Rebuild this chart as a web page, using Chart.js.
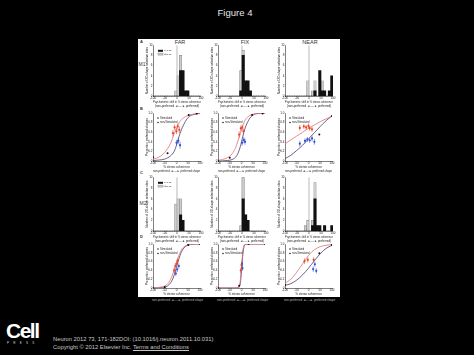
<!DOCTYPE html>
<html><head><meta charset="utf-8">
<script src="https://cdn.jsdelivr.net/npm/chart.js@4.4.1/dist/chart.umd.min.js"></script>
<style>
html,body{margin:0;padding:0;background:#000;width:474px;height:355px;overflow:hidden;font-family:"Liberation Sans",Arial,sans-serif;}
#paper{position:absolute;left:138px;top:39px;width:202px;height:258px;background:#fff;}
canvas{position:absolute;}
.t{position:absolute;white-space:nowrap;line-height:1;}
</style></head><body>
<div id="paper"></div>
<div class="t" style="left:0;width:470px;top:8px;text-align:center;color:#e6e6e6;font-size:9.5px;">Figure 4</div>
<div id="labels"></div>
<div class="t" style="left:6px;top:320px;color:#fff;font-size:21px;font-weight:bold;letter-spacing:-1.5px;">Cell</div>
<div class="t" style="left:7px;top:342px;color:#ddd;font-size:3px;letter-spacing:4.3px;">PRESS</div>
<div class="t" style="left:53px;top:337px;color:#c8c8c8;font-size:5.8px;">Neuron 2012 73, 171-182DOI: (10.1016/j.neuron.2011.10.031)</div>
<div class="t" style="left:53px;top:345px;color:#c8c8c8;font-size:5.8px;">Copyright © 2012 Elsevier Inc. <span style="text-decoration:underline;">Terms and Conditions</span></div>
<script>
// ---------- DATA ----------
const columnTitles = ['FAR', 'FIX', 'NEAR'];
const rowLetters = ['A', 'B', 'C', 'D'];
const monkeys = ['M1', 'M2'];
const histLegendLabels = ['p<0.05', 'p\u22650.05'];
const curveLegendLabels = ['Stimulated', 'non-Stimulated'];
const binCentres = [-95,-85,-75,-65,-55,-45,-35,-25,-15,-5,5,15,25,35,45,55,65,75,85,95];
const zeroLineX = 0;
const histMax = 10;
// M1 histograms (counts per bin)
const farM1Sig    = [0,0,0,0,0,0,0,0,0,0,0,5,5,1,1,0,0,0,0,0];
const farM1NonSig = [0,0,0,0,0,0,0,0,0,1,4,8,0,0,0,0,0,0,0,0];
const fixM1Sig    = [0,0,0,0,0,0,0,0,0,1,8,3,3,1,0,0,0,0,0,0];
const fixM1NonSig = [0,0,0,0,0,0,0,0,0,5,9,0,0,0,0,0,0,0,0,0];
const nearM1Sig   = [0,0,0,0,0,0,0,0,0,0,0,0,1,0,5,1,1,0,1,4];
const nearM1NonSig= [0,0,0,0,0,0,0,0,0,3,0,1,3,0,0,3,0,0,0,0];
// M2 histograms
const farM2Sig    = [0,0,0,0,0,0,0,0,0,0,0,3,2,0,0,0,0,0,0,0];
const farM2NonSig = [0,0,0,0,0,0,0,0,0,5,6,6,0,0,0,0,0,0,0,0];
const fixM2Sig    = [0,0,0,0,0,0,0,0,0,0,6,3,2,0,0,0,0,0,0,0];
const fixM2NonSig = [0,0,0,0,0,0,0,0,0,1,10,3,0,0,0,0,0,0,0,0];
const nearM2Sig   = [0,0,0,0,0,0,0,0,0,0,0,1,6,1,1,0,1,0,0,1];
const nearM2NonSig= [0,0,0,0,0,0,0,0,1,2,0,2,9,0,0,0,0,0,0,0];

// Psychometric panels: fitted curves
const farM1CurveX  = [-100,-75,-50,-25,-10,0,10,25,50,75,100];
const farM1StimCurve = [0.04,0.08,0.18,0.37,0.57,0.68,0.79,0.88,0.95,0.98,0.99];
const farM1NonCurve  = [0.01,0.02,0.04,0.11,0.20,0.33,0.50,0.70,0.91,0.97,0.99];
const farM1StimX = [-15,-8,0,5,12];   const farM1StimY = [0.58,0.70,0.62,0.72,0.65]; const farM1StimErr = [0.07,0.06,0.06,0.06,0.07];
const farM1NonX  = [0,8,15];          const farM1NonY  = [0.38,0.42,0.33];           const farM1NonErr  = [0.06,0.06,0.07];
const farM1EndX  = [-100,-38,52,86];  const farM1EndY  = [0.08,0.16,0.96,0.99];

const fixM1CurveX = [-100,-60,-40,-25,-15,-5,0,5,15,25,40,60,100];
const fixM1StimCurve = [0.01,0.07,0.15,0.28,0.42,0.57,0.65,0.72,0.85,0.91,0.96,0.99,1.0];
const fixM1NonCurve  = [0.0,0.01,0.03,0.08,0.16,0.30,0.40,0.50,0.68,0.80,0.92,0.98,1.0];
const fixM1StimX = [-10,-3,3,8];      const fixM1StimY = [0.55,0.68,0.70,0.62];      const fixM1StimErr = [0.07,0.06,0.06,0.06];
const fixM1NonX  = [3,10,15];         const fixM1NonY  = [0.38,0.44,0.40];           const fixM1NonErr  = [0.06,0.06,0.06];
const fixM1EndX  = [-100,-50,45,90];  const fixM1EndY  = [0.01,0.07,0.96,0.99];

const nearM1CurveX = [-100,-75,-50,-25,0,25,50,75,100];
const nearM1StimCurve = [0.36,0.44,0.52,0.60,0.68,0.75,0.82,0.88,0.93];
const nearM1NonCurve  = [0.05,0.12,0.22,0.33,0.46,0.59,0.72,0.84,0.94];
const nearM1StimX = [-37,-20,-10,0,5,15]; const nearM1StimY = [0.69,0.72,0.70,0.73,0.68,0.66]; const nearM1StimErr = [0.06,0.05,0.05,0.05,0.05,0.05];
const nearM1NonX  = [-37,-15,-5,5,15,25]; const nearM1NonY  = [0.36,0.42,0.45,0.43,0.47,0.40]; const nearM1NonErr  = [0.06,0.05,0.05,0.05,0.06,0.06];
const nearM1EndX  = [46,100];          const nearM1EndY  = [0.55,0.94];

const farM2CurveX = [-100,-60,-40,-25,-15,-5,0,5,15,25,40,60,100];
const farM2StimCurve = [0.0,0.03,0.08,0.20,0.33,0.50,0.58,0.67,0.80,0.90,0.96,0.99,1.0];
const farM2NonCurve  = [0.0,0.01,0.04,0.12,0.22,0.38,0.47,0.57,0.74,0.86,0.95,0.99,1.0];
const farM2StimX = [-10,-5,0,5];      const farM2StimY = [0.40,0.50,0.55,0.62];      const farM2StimErr = [0.06,0.06,0.06,0.06];
const farM2NonX  = [-3,3,10];         const farM2NonY  = [0.33,0.42,0.50];           const farM2NonErr  = [0.06,0.06,0.06];
const farM2EndX  = [-100,-50,50,100]; const farM2EndY  = [0.0,0.02,0.98,1.0];

const fixM2CurveX = [-100,-30,-15,-10,-5,-2,0,2,5,10,15,30,100];
const fixM2StimCurve = [0.0,0.0,0.01,0.04,0.18,0.38,0.50,0.62,0.82,0.96,0.99,1.0,1.0];
const fixM2NonCurve  = [0.0,0.0,0.0,0.02,0.10,0.26,0.38,0.50,0.72,0.92,0.98,1.0,1.0];
const fixM2StimX = [-3,0];            const fixM2StimY = [0.40,0.52];                const fixM2StimErr = [0.06,0.06];
const fixM2NonX  = [2,4];             const fixM2NonY  = [0.55,0.45];                const fixM2NonErr  = [0.06,0.06];
const fixM2EndX  = [-100,-10,30,100]; const fixM2EndY  = [0.0,0.05,1.0,1.0];

const nearM2CurveX = [-100,-75,-50,-25,0,25,50,75,100];
const nearM2StimCurve = [0.11,0.20,0.36,0.55,0.74,0.87,0.94,0.97,0.99];
const nearM2NonCurve  = [0.06,0.10,0.18,0.30,0.45,0.62,0.78,0.90,0.97];
const nearM2StimX = [-17,-3,22];      const nearM2StimY = [0.61,0.64,0.64];          const nearM2StimErr = [0.06,0.06,0.06];
const nearM2NonX  = [20,27,33];       const nearM2NonY  = [0.43,0.54,0.39];          const nearM2NonErr  = [0.06,0.06,0.06];
const nearM2EndX  = [-100,46,100];    const nearM2EndY  = [0.07,0.79,0.98];

// ---------- LAYOUT ----------
const colLeft = [153, 218, 285];
const plotW = 49;
const rowTop = [45, 111, 177, 242];
const rowH = [51, 50, 54, 46];
const yAxisW = 8, xAxisH = 12, padT = 2, padR = 2;

const TXT = '#222';
const tickFont = {size: 3, family: 'Liberation Sans'};
const titleFont = {size: 3, family: 'Liberation Sans'};

const errorBarPlugin = {
  id: 'errbars',
  afterDatasetsDraw(chart) {
    const {ctx, scales: {x, y}} = chart;
    chart.data.datasets.forEach((ds) => {
      if (!ds.errors) return;
      ctx.save();
      ctx.strokeStyle = ds.borderColor;
      ctx.lineWidth = 0.6;
      ds.data.forEach((p, j) => {
        const e = ds.errors[j];
        const px = x.getPixelForValue(p.x);
        ctx.beginPath();
        ctx.moveTo(px, y.getPixelForValue(p.y - e));
        ctx.lineTo(px, y.getPixelForValue(p.y + e));
        ctx.stroke();
      });
      ctx.restore();
    });
  }
};

// legend drawn inside the plot area, top-left
const insideLegend = {
  id: 'insideLegend',
  afterDraw(chart, args, opts) {
    if (!opts.items) return;
    const {ctx, chartArea} = chart;
    ctx.save();
    ctx.font = opts.size + 'px "Liberation Sans"';
    ctx.textBaseline = 'middle';
    opts.items.forEach((it, i) => {
      const x = chartArea.left + opts.left;
      const y = chartArea.top + opts.top + i * opts.gap;
      if (it.kind === 'box') {
        ctx.fillStyle = it.fill; ctx.fillRect(x, y - 1, 5, 2);
        if (it.stroke) { ctx.strokeStyle = it.stroke; ctx.lineWidth = 0.4; ctx.strokeRect(x, y - 1, 5, 2); }
        ctx.fillStyle = TXT; ctx.fillText(it.text, x + 6, y);
      } else {
        ctx.fillStyle = it.fill; ctx.beginPath(); ctx.arc(x + 1, y, 0.8, 0, Math.PI * 2); ctx.fill();
        ctx.fillStyle = TXT; ctx.fillText(it.text, x + 3, y);
      }
    });
    ctx.restore();
  }
};

function makeCanvas(col, row) {
  const c = document.createElement('canvas');
  const w = yAxisW + plotW + padR, h = padT + rowH[row] + xAxisH;
  c.width = w; c.height = h;
  c.style.left = (colLeft[col] - yAxisW) + 'px';
  c.style.top = (rowTop[row] - padT) + 'px';
  c.style.width = w + 'px'; c.style.height = h + 'px';
  document.body.appendChild(c);
  return c;
}

function axisBase(min, max, step, titleText, isX) {
  return {
    type: 'linear', min, max, offset: false,
    grid: {display: false, drawTicks: false},
    border: {display: true, color: '#000', width: 0.5},
    ticks: {stepSize: step, font: tickFont, color: TXT, padding: 0.5, maxRotation: 0, autoSkip: false},
    title: {display: true, text: titleText, font: titleFont, color: TXT, padding: 0.3},
    afterFit: isX ? (s => { s.height = xAxisH; }) : (s => { s.width = yAxisW; })
  };
}

function histChart(col, row, sig, nonsig, showLegend) {
  const cv = makeCanvas(col, row);
  new Chart(cv, {
    type: 'bar',
    data: {datasets: [
      {label: histLegendLabels[0], data: binCentres.map((x, i) => ({x, y: sig[i]})), backgroundColor: '#111', borderWidth: 0,
       grouped: false, order: 0, barPercentage: 1, categoryPercentage: 1},
      {label: histLegendLabels[1], data: binCentres.map((x, i) => ({x, y: nonsig[i]})), backgroundColor: '#cdcdcd', borderColor: '#7a7a7a', borderWidth: 0.5,
       grouped: false, order: 1, barPercentage: 1, categoryPercentage: 1},
      {type: 'line', label: 'zero', data: [{x: zeroLineX, y: 0}, {x: zeroLineX, y: histMax}], borderColor: '#9a9a9a', borderWidth: 0.7, pointRadius: 0, order: 2}
    ]},
    options: {
      responsive: false, animation: false, events: [], devicePixelRatio: 1,
      layout: {padding: {top: padT, right: padR, left: 0, bottom: 0}},
      plugins: {
        tooltip: {enabled: false},
        legend: {display: false},
        insideLegend: showLegend ? {left: 5, top: 5.5, gap: 3.3, size: 2.4, items: [
          {kind: 'box', fill: '#111', text: histLegendLabels[0]},
          {kind: 'box', fill: '#cdcdcd', stroke: '#7a7a7a', text: histLegendLabels[1]}]} : {}
      },
      scales: {
        x: axisBase(-100, 100, 50, ['Psychometric shift in % stereo coherence', '(non-preferred \u25C4\u2500\u2500\u25BA preferred)'], true),
        y: axisBase(0, histMax, 2, 'Number of 3D-shape selective sites', false)
      }
    },
    plugins: [insideLegend]
  });
}

function curveChart(col, row, cx, stimC, nonC, sx, sy, se, nx, ny, ne, ex, ey) {
  const cv = makeCanvas(col, row);
  const pts = (xs, ys) => xs.map((x, i) => ({x, y: ys[i]}));
  new Chart(cv, {
    type: 'scatter',
    data: {datasets: [
      {type: 'line', label: 'stimFit', data: pts(cx, stimC), borderColor: '#e07070', borderWidth: 0.8, pointRadius: 0, cubicInterpolationMode: 'monotone', order: 3},
      {type: 'line', label: 'nonFit', data: pts(cx, nonC), borderColor: '#4a3a6a', borderWidth: 0.8, pointRadius: 0, cubicInterpolationMode: 'monotone', order: 3},
      {label: curveLegendLabels[0], data: pts(sx, sy), errors: se, backgroundColor: '#e8452a', borderColor: '#e8452a', pointRadius: 1.1, pointBorderWidth: 0, order: 1},
      {label: curveLegendLabels[1], data: pts(nx, ny), errors: ne, backgroundColor: '#3050d0', borderColor: '#3050d0', pointRadius: 1.1, pointBorderWidth: 0, order: 1},
      {label: 'ends', data: pts(ex, ey), backgroundColor: '#111', borderColor: '#111', pointRadius: 1.0, pointBorderWidth: 0, order: 0}
    ]},
    options: {
      responsive: false, animation: false, events: [], devicePixelRatio: 1,
      layout: {padding: {top: padT, right: padR, left: 0, bottom: 0}},
      plugins: {
        tooltip: {enabled: false},
        legend: {display: false},
        insideLegend: {left: 4, top: 5, gap: 4.5, size: 2.6, items: [
          {kind: 'dot', fill: '#222', text: curveLegendLabels[0]},
          {kind: 'dot', fill: '#222', text: curveLegendLabels[1]}]}
      },
      scales: {
        x: axisBase(-100, 100, 50, row === 3 ? ['% stereo coherence', ' '] : ['% stereo coherence', 'non-preferred \u25C4\u2500\u2500\u25BA preferred shape'], true),
        y: axisBase(0, 1, 0.2, 'Proportion preferred choices', false)
      }
    },
    plugins: [errorBarPlugin, insideLegend]
  });
}

histChart(0, 0, farM1Sig, farM1NonSig, true);
histChart(1, 0, fixM1Sig, fixM1NonSig, false);
histChart(2, 0, nearM1Sig, nearM1NonSig, false);
curveChart(0, 1, farM1CurveX, farM1StimCurve, farM1NonCurve, farM1StimX, farM1StimY, farM1StimErr, farM1NonX, farM1NonY, farM1NonErr, farM1EndX, farM1EndY);
curveChart(1, 1, fixM1CurveX, fixM1StimCurve, fixM1NonCurve, fixM1StimX, fixM1StimY, fixM1StimErr, fixM1NonX, fixM1NonY, fixM1NonErr, fixM1EndX, fixM1EndY);
curveChart(2, 1, nearM1CurveX, nearM1StimCurve, nearM1NonCurve, nearM1StimX, nearM1StimY, nearM1StimErr, nearM1NonX, nearM1NonY, nearM1NonErr, nearM1EndX, nearM1EndY);
histChart(0, 2, farM2Sig, farM2NonSig, true);
histChart(1, 2, fixM2Sig, fixM2NonSig, false);
histChart(2, 2, nearM2Sig, nearM2NonSig, false);
curveChart(0, 3, farM2CurveX, farM2StimCurve, farM2NonCurve, farM2StimX, farM2StimY, farM2StimErr, farM2NonX, farM2NonY, farM2NonErr, farM2EndX, farM2EndY);
curveChart(1, 3, fixM2CurveX, fixM2StimCurve, fixM2NonCurve, fixM2StimX, fixM2StimY, fixM2StimErr, fixM2NonX, fixM2NonY, fixM2NonErr, fixM2EndX, fixM2EndY);
curveChart(2, 3, nearM2CurveX, nearM2StimCurve, nearM2NonCurve, nearM2StimX, nearM2StimY, nearM2StimErr, nearM2NonX, nearM2NonY, nearM2NonErr, nearM2EndX, nearM2EndY);

// text labels
const lab = document.getElementById('labels');
function addText(txt, left, top, size, color, extra) {
  const d = document.createElement('div');
  d.className = 't';
  d.textContent = txt;
  d.style.left = left + 'px'; d.style.top = top + 'px';
  d.style.fontSize = size + 'px'; d.style.color = color;
  if (extra) Object.assign(d.style, extra);
  lab.appendChild(d);
}
const colCentre = [180, 245, 310];
columnTitles.forEach((t, i) => addText(t, colCentre[i] - 15, 40, 5.5, '#333', {width: '30px', textAlign: 'center'}));
const letterTop = [39.5, 107, 171, 235];
rowLetters.forEach((t, i) => addText(t, 140, letterTop[i], 4, '#333', {fontWeight: 'bold'}));
addText(monkeys[0], 138.5, 62, 5, '#333');
addText(monkeys[1], 139.5, 201, 5, '#333');
colLeft.forEach(l => addText('non-preferred \u25C4\u2500\u2500\u25BA preferred shape', l - 2, 299, 3, '#bbb', {width: (plotW + 4) + 'px', textAlign: 'center'}));
</script>
</body></html>
